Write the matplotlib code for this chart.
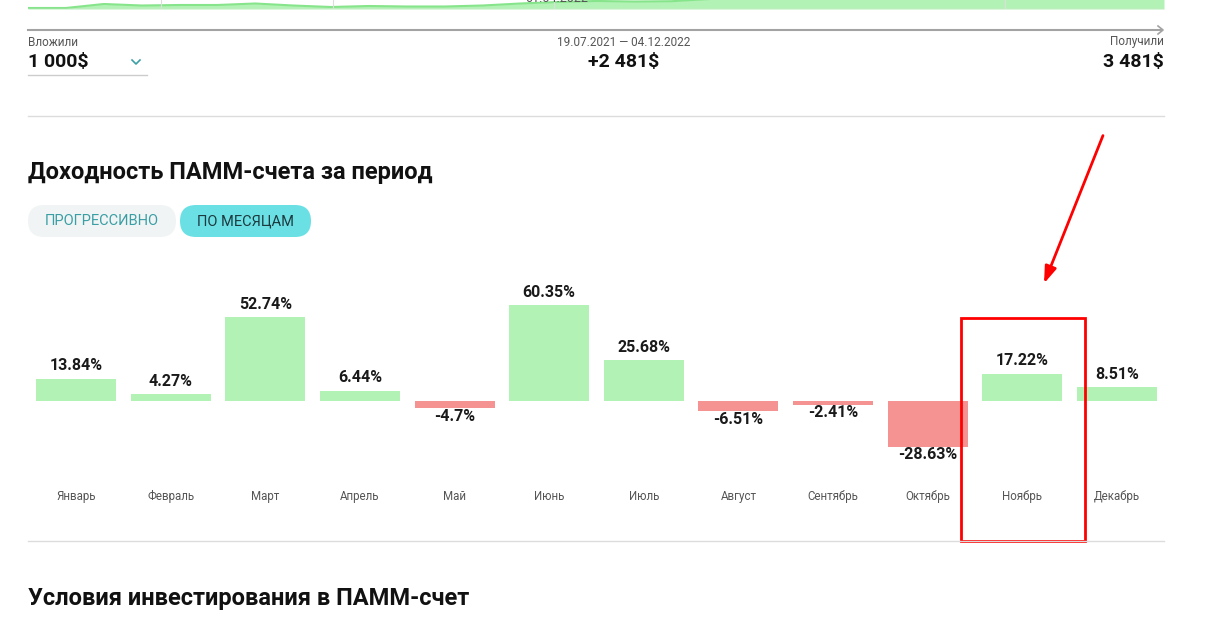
import matplotlib.pyplot as plt
from matplotlib.patches import FancyBboxPatch, Rectangle

plt.rcParams["font.family"] = ["Roboto", "DejaVu Sans"]

MONTHS = ["Январь", "Февраль", "Март", "Апрель", "Май", "Июнь",
          "Июль", "Август", "Сентябрь", "Октябрь", "Ноябрь", "Декабрь"]
RETURNS = [13.84, 4.27, 52.74, 6.44, -4.7, 60.35,
           25.68, -6.51, -2.41, -28.63, 17.22, 8.51]

# bottom edge of the equity chart above (only a sliver is visible)
EQUITY = [1020, 1020, 1100, 1070, 1080, 1080, 1110, 1070, 1040, 1060,
          1050, 1050, 1070, 1110, 1140, 1160, 1150, 1156, 1200, 1280,
          1350, 1420, 1500, 1600, 1700, 1800, 1900, 2000, 2100, 2200, 2300]
EQUITY_GRID = [3.5, 8.05, 13.9, 25.8]

INVESTED = "1 000$"
PROFIT = "+2 481$"
RECEIVED = "3 481$"
PERIOD = "19.07.2021 — 04.12.2022"

GREEN = "#b3f2b5"
RED = "#f59393"
W, H = 1215, 627

fig = plt.figure(figsize=(W / 100, H / 100), dpi=100)
fig.patch.set_facecolor("white")


def px_box(x0, y0, x1, y1):
    return [x0 / W, 1 - y1 / H, (x1 - x0) / W, (y1 - y0) / H]


# equity strip at the very top
ax_e = fig.add_axes(px_box(28, 0, 1164, 9))
idx = list(range(len(EQUITY)))
ax_e.fill_between(idx, 1000, EQUITY, color=GREEN, lw=0)
ax_e.plot(idx, EQUITY, color="#86e48a", lw=1.5)
for g in EQUITY_GRID:
    ax_e.axvline(g, color="#dddddd", lw=0.8)
ax_e.set_xlim(0, len(EQUITY) - 1)
ax_e.set_ylim(1000, 1180)
ax_e.axis("off")
ax_e.axhline(1000, color="#dddddd", lw=1)

# monthly bars
ax = fig.add_axes(px_box(28.7, 289.7, 1164.3, 464.6))
colors = [GREEN if v >= 0 else RED for v in RETURNS]
ax.bar(range(len(RETURNS)), RETURNS, width=0.846, color=colors)
for i, v in enumerate(RETURNS):
    off = 13 if v >= 0 else -8
    ax.annotate(f"{v:g}%", (i, v), xytext=(0, off), textcoords="offset pixels",
                ha="center", va="center", fontsize=11.5, fontweight="bold",
                color="#1a1a1a")
ax.set_xlim(-0.5, len(RETURNS) - 0.5)
ax.set_ylim(-40, 70)
ax.set_xticks(range(len(MONTHS)), MONTHS, fontsize=8.3, color="#555555")
ax.tick_params(length=0, pad=18)
ax.set_yticks([])
for s in ax.spines.values():
    s.set_visible(False)

# page decorations
ov = fig.add_axes([0, 0, 1, 1], zorder=5)
ov.set_xlim(0, W)
ov.set_ylim(H, 0)
ov.axis("off")
ov.patch.set_visible(False)

ov.text(557, -1, "01.04.2022", ha="center", va="center", fontsize=9, color="#555555")
ov.plot([28, 1162], [30, 30], color="#a3a3a3", lw=1.5)
ov.plot([1158, 1163, 1158], [26, 30, 34], color="#a3a3a3", lw=1.2)

ov.text(28, 42, "Вложили", fontsize=8.5, color="#555555", va="center")
ov.text(28, 62, INVESTED, fontsize=14, fontweight="bold", color="#111111", va="center")
ov.plot([132, 136, 140], [60, 64, 60], color="#3a9ea5", lw=1.2)
ov.plot([28, 147], [75, 75], color="#cccccc", lw=1)
ov.text(624, 42, PERIOD, fontsize=8.5, color="#555555", va="center", ha="center")
ov.text(624, 62, PROFIT, fontsize=14, fontweight="bold", color="#111111",
        va="center", ha="center")
ov.text(1164, 42, "Получили", fontsize=8.5, color="#555555", va="center", ha="right")
ov.text(1164, 62, RECEIVED, fontsize=14, fontweight="bold", color="#111111",
        va="center", ha="right")
ov.plot([28, 1164], [116, 116], color="#dcdcdc", lw=1)

ov.text(28, 173, "Доходность ПАММ-счета за период", fontsize=17, fontweight="bold",
        color="#111111", va="center")
ov.add_patch(FancyBboxPatch((28, 205), 148, 32, boxstyle="round,pad=0,rounding_size=16",
                            fc="#f1f4f4", ec="none"))
ov.text(102, 221, "ПРОГРЕССИВНО", fontsize=10.5, color="#3a9ea5", ha="center", va="center")
ov.add_patch(FancyBboxPatch((180, 205), 131, 32, boxstyle="round,pad=0,rounding_size=16",
                            fc="#6ae0e5", ec="none"))
ov.text(245.5, 221, "ПО МЕСЯЦАМ", fontsize=10.5, color="#1d3a3e", ha="center", va="center")

ov.plot([28, 1164], [541, 541], color="#dcdcdc", lw=1)
ov.add_patch(Rectangle((961, 318), 124, 223, fill=False, ec="#ff0000", lw=2))
ov.annotate("", xy=(1043, 286), xytext=(1104, 133),
            arrowprops=dict(arrowstyle="-|>,head_length=1.0,head_width=0.35",
                            color="#ff0000", lw=2))

ov.text(28, 598, "Условия инвестирования в ПАММ-счет", fontsize=17, fontweight="bold",
        color="#111111", va="center")

fig.savefig("out.png", dpi=100)
